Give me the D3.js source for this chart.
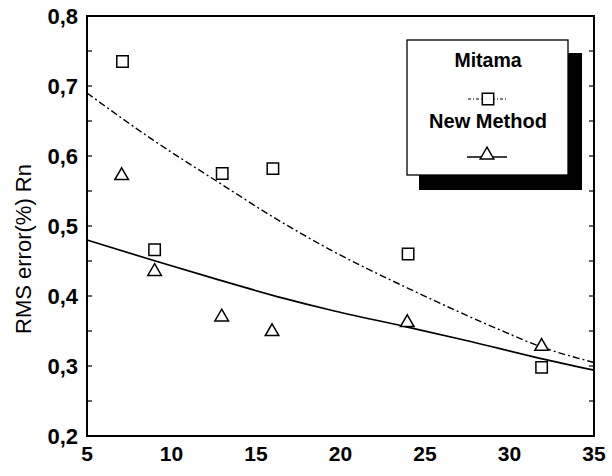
<!DOCTYPE html>
<html>
<head>
<meta charset="utf-8">
<script src="https://cdn.jsdelivr.net/npm/d3@7"></script>
<style>
  body { margin: 0; background: #fff; }
  text { font-family: "Liberation Sans", Arial, Helvetica, sans-serif; fill: #000; }
</style>
</head>
<body>
<div id="chart"></div>
<script>
const mitamaX = [7.1, 9.0, 13.0, 16.0, 24.0, 31.9];
const mitamaY = [0.735, 0.466, 0.575, 0.582, 0.460, 0.298];
const newX = [7.05, 9.0, 12.97, 15.95, 23.95, 31.9];
const newY = [0.572, 0.435, 0.370, 0.349, 0.362, 0.328];

// fitted curves (sampled along the drawn lines)
const mitamaFitX = [5, 8.9, 13, 16, 19.4, 24, 29.2, 31.8, 35];
const mitamaFitY = [0.690, 0.623, 0.559, 0.513, 0.466, 0.411, 0.354, 0.328, 0.305];
const newFitX = [5, 8.9, 12.8, 16.6, 19.4, 23.9, 27.7, 31.8, 35];
const newFitY = [0.480, 0.451, 0.423, 0.397, 0.380, 0.356, 0.335, 0.311, 0.294];

const xTicks = [5, 10, 15, 20, 25, 30, 35];
const yTicks = [0.2, 0.3, 0.4, 0.5, 0.6, 0.7, 0.8];
const yMinor = [0.25, 0.35, 0.45, 0.55, 0.65, 0.75];

const svgWidth = 612,
      svgHeight = 476,
      margin = { top: 16, right: 18, bottom: 40, left: 87 };

const width = svgWidth - margin.left - margin.right;
const height = svgHeight - margin.top - margin.bottom;

const svg = d3.select("#chart")
  .append("svg")
  .attr("width", svgWidth)
  .attr("height", svgHeight);

const chartGroup = svg.append("g")
  .attr("transform", `translate(${margin.left}, ${margin.top})`);

const x = d3.scaleLinear().domain([5, 35]).range([0, width]);
const y = d3.scaleLinear().domain([0.2, 0.8]).range([height, 0]);

const fmt = v => d3.format(".1f")(v).replace(".", ",");

// frame
chartGroup.append("rect")
  .attr("width", width)
  .attr("height", height)
  .attr("fill", "none")
  .attr("stroke", "#000")
  .attr("stroke-width", 2);

// y ticks inward on left and right
const allY = yTicks.concat(yMinor);
chartGroup.append("g")
  .selectAll("line")
  .data(allY)
  .enter()
  .append("line")
  .attr("x1", 0).attr("x2", 5)
  .attr("y1", d => y(d)).attr("y2", d => y(d))
  .attr("stroke", "#000").attr("stroke-width", 1.2);

chartGroup.append("g")
  .selectAll("line")
  .data(allY)
  .enter()
  .append("line")
  .attr("x1", width).attr("x2", width - 5)
  .attr("y1", d => y(d)).attr("y2", d => y(d))
  .attr("stroke", "#000").attr("stroke-width", 1.2);

// tick labels
chartGroup.append("g")
  .selectAll("text")
  .data(yTicks)
  .enter()
  .append("text")
  .attr("x", -9)
  .attr("y", d => y(d))
  .attr("dy", "0.36em")
  .attr("text-anchor", "end")
  .attr("font-size", "22px")
  .attr("font-weight", "bold")
  .text(fmt);

chartGroup.append("g")
  .selectAll("text")
  .data(xTicks)
  .enter()
  .append("text")
  .attr("x", d => x(d))
  .attr("y", height + 25)
  .attr("text-anchor", "middle")
  .attr("font-size", "21px")
  .attr("font-weight", "bold")
  .text(d => d);

// y axis title
svg.append("text")
  .attr("transform", "translate(31, 249) rotate(-90)")
  .attr("text-anchor", "middle")
  .attr("font-size", "22px")
  .text("RMS error(%) Rn");

// fitted lines
const line = d3.line()
  .x(d => x(d[0]))
  .y(d => y(d[1]))
  .curve(d3.curveMonotoneX);

chartGroup.append("path")
  .datum(d3.zip(mitamaFitX, mitamaFitY))
  .attr("d", line)
  .attr("fill", "none")
  .attr("stroke", "#000")
  .attr("stroke-width", 1.4)
  .attr("stroke-dasharray", "7,3,2,3");

chartGroup.append("path")
  .datum(d3.zip(newFitX, newFitY))
  .attr("d", line)
  .attr("fill", "none")
  .attr("stroke", "#000")
  .attr("stroke-width", 1.7);

// markers
const square = d3.symbol().type(d3.symbolSquare).size(130);
const triangle = d3.symbol().type(d3.symbolTriangle).size(80);

chartGroup.append("g")
  .selectAll("path")
  .data(d3.zip(mitamaX, mitamaY))
  .enter()
  .append("path")
  .attr("d", square)
  .attr("transform", d => `translate(${x(d[0])}, ${y(d[1])})`)
  .attr("fill", "#fff")
  .attr("stroke", "#000")
  .attr("stroke-width", 1.5);

chartGroup.append("g")
  .selectAll("path")
  .data(d3.zip(newX, newY))
  .enter()
  .append("path")
  .attr("d", triangle)
  .attr("transform", d => `translate(${x(d[0])}, ${y(d[1])})`)
  .attr("fill", "#fff")
  .attr("stroke", "#000")
  .attr("stroke-width", 1.5);

// legend with drop shadow
const legend = svg.append("g");

legend.append("rect")
  .attr("x", 419).attr("y", 53)
  .attr("width", 163).attr("height", 137)
  .attr("fill", "#000");

legend.append("rect")
  .attr("x", 407).attr("y", 40)
  .attr("width", 161).attr("height", 135)
  .attr("fill", "#fff")
  .attr("stroke", "#000")
  .attr("stroke-width", 1.3);

legend.append("text")
  .attr("x", 488).attr("y", 67)
  .attr("text-anchor", "middle")
  .attr("font-size", "19.5px")
  .attr("font-weight", "bold")
  .text("Mitama");

legend.append("line")
  .attr("x1", 468).attr("x2", 506)
  .attr("y1", 99).attr("y2", 99)
  .attr("stroke", "#000").attr("stroke-width", 1)
  .attr("stroke-dasharray", "3,2,1,2");

legend.append("path")
  .attr("d", square)
  .attr("transform", "translate(488, 99)")
  .attr("fill", "#fff").attr("stroke", "#000").attr("stroke-width", 1.5);

legend.append("text")
  .attr("x", 488).attr("y", 128)
  .attr("text-anchor", "middle")
  .attr("font-size", "20px")
  .attr("font-weight", "bold")
  .text("New Method");

legend.append("line")
  .attr("x1", 467).attr("x2", 507)
  .attr("y1", 157).attr("y2", 157)
  .attr("stroke", "#000").attr("stroke-width", 1.3);

legend.append("path")
  .attr("d", triangle)
  .attr("transform", "translate(487, 155)")
  .attr("fill", "#fff").attr("stroke", "#000").attr("stroke-width", 1.5);
</script>
</body>
</html>
